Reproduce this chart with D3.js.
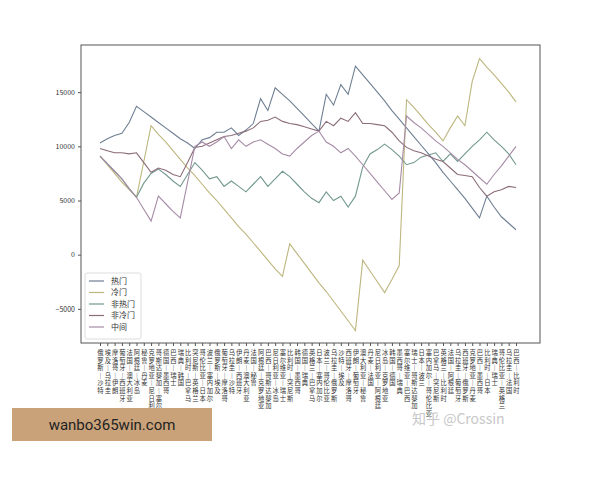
<!DOCTYPE html>
<html>
<head>
<meta charset="utf-8">
<script src="https://cdn.jsdelivr.net/npm/d3@7"></script>
<style>
body { margin: 0; background: #fff; }
svg text { font-family: "Noto Sans CJK SC", "DejaVu Sans", sans-serif; }
</style>
</head>
<body>
<svg id="chart" width="600" height="480"></svg>
<script>
// match labels (x axis)
var matches = ["俄罗斯—沙特","埃及—乌拉圭","摩洛哥—伊朗","葡萄牙—西班牙","法国—澳大利亚","阿根廷—冰岛","秘鲁—丹麦",
  "克罗地亚—尼日利亚","哥斯达黎加—塞尔维亚","德国—墨西哥","巴西—瑞士","瑞典—韩国","比利时—巴拿马","突尼斯—英格兰",
  "哥伦比亚—日本","波兰—塞内加尔","俄罗斯—埃及","葡萄牙—摩洛哥","乌拉圭—沙特","伊朗—西班牙","丹麦—澳大利亚",
  "法国—秘鲁","阿根廷—克罗地亚","巴西—哥斯达黎加","尼日利亚—冰岛","塞尔维亚—瑞士","比利时—突尼斯","韩国—墨西哥",
  "德国—瑞典","英格兰—巴拿马","日本—塞内加尔","波兰—哥伦比亚","乌拉圭—俄罗斯","沙特—埃及","西班牙—摩洛哥",
  "伊朗—葡萄牙","澳大利亚—秘鲁","丹麦—法国","尼日利亚—阿根廷","冰岛—克罗地亚","韩国—德国","墨西哥—瑞典",
  "塞尔维亚—巴西","瑞士—哥斯达黎加","日本—波兰","塞内加尔—哥伦比亚","巴拿马—突尼斯","英格兰—比利时",
  "法国—阿根廷","乌拉圭—葡萄牙","西班牙—俄罗斯","克罗地亚—丹麦","巴西—墨西哥","比利时—日本","瑞典—瑞士",
  "哥伦比亚—英格兰","乌拉圭—法国","巴西—比利时"];

var seriesNames = ["热门", "冷门", "非热门", "非冷门", "中间"];
var colors = ["#6e7f93", "#bdb67e", "#72988f", "#8b6c79", "#a68ca6"];

var hot = [10300,10700,11000,11200,12200,13700,13200,12700,12200,11700,11200,10700,10300,9800,10600,10800,11300,11300,11700,11000,
  11500,12100,14400,13300,15400,14800,14200,13500,12800,12100,11400,14800,13800,15700,14800,17400,16600,15800,15000,14200,
  13300,12500,11700,10900,10100,9300,8500,7600,6800,6000,5200,4300,3400,5400,4400,3500,2900,2300];
var cold = [9100,8300,7500,6700,6000,5300,8600,11900,11100,10400,9600,8800,8000,7300,6500,5700,5000,4200,3400,2600,
  1900,1100,300,-500,-1300,-2000,1000,100,-800,-1700,-2600,-3400,-4300,-5200,-6100,-7000,-500,-1500,-2500,-3500,
  -2300,-1000,14300,13600,12800,12000,11300,10500,11700,12800,11900,16000,18100,17300,16600,15800,15000,14100];
var nonHot = [9100,8400,7700,7000,6100,5300,6600,7500,7900,7400,6800,6300,7400,8500,7800,7000,7200,6300,6800,6300,
  5800,6500,7200,6300,7000,7700,7200,6500,5800,5200,4800,5800,5000,5400,4400,5400,8100,9300,9700,10200,
  9700,9100,8300,8500,9000,9200,9400,8600,9300,8600,9300,10000,10600,11300,10600,10000,9300,8300];
var nonCold = [9800,9600,9400,9400,9300,9400,8500,7600,8000,7800,7400,7200,8500,9900,10000,10300,10600,10900,11000,11200,
  11400,11700,12300,12400,12700,12300,12100,12000,11800,11600,11400,12300,11900,12600,12300,13100,12100,12100,12000,11900,
  11300,10500,9900,9600,9400,9100,8800,8600,8000,7400,7300,7200,6200,5400,5800,6000,6300,6200];
var middle = [9100,8400,7700,7000,6100,5300,4200,3100,5400,4700,4000,3400,6700,10000,10400,10000,10400,10900,9800,10600,
  10000,10400,10600,10200,9800,9300,9100,9800,10400,11000,11400,10400,10000,9400,9800,9100,8300,7500,6700,5900,
  5100,5700,12800,12200,11700,11100,10500,10000,9400,8800,8300,7700,7100,6500,7400,8200,9100,10000];
var yTicks = [-5000, 0, 5000, 10000, 15000];

var allSeries = [hot, cold, nonHot, nonCold, middle];

var margin = {top: 45, right: 60, bottom: 137, left: 81},
    width = 600 - margin.left - margin.right,
    height = 480 - margin.top - margin.bottom;

var svg = d3.select("#chart").append("g")
  .attr("transform", `translate(${margin.left},${margin.top})`);

var x = d3.scalePoint().domain(matches).range([19, width - 24]);
var y = d3.scaleLinear().domain([-8150, 19350]).range([height, 0]);

svg.append("rect").attr("width", width).attr("height", height)
  .attr("fill", "none").attr("stroke", "#555").attr("stroke-width", 1);

var ya = svg.append("g").call(d3.axisLeft(y).tickValues(yTicks).tickFormat(d3.format("d")).tickSize(3).tickSizeOuter(0));
ya.select(".domain").remove();
ya.selectAll("text").attr("font-size", 7).attr("fill", "#333");
ya.selectAll("line").attr("stroke", "#555");

var xa = svg.append("g").attr("transform", `translate(0,${height})`)
  .call(d3.axisBottom(x).tickSize(3).tickSizeOuter(0).tickFormat(""));
xa.select(".domain").remove();
xa.selectAll("line").attr("stroke", "#555");
// vertical stacked labels, one character per row
xa.selectAll(".tick").each(function(d) {
  var t = d3.select(this).append("text").attr("fill", "#333").attr("font-size", 6.3)
    .attr("text-anchor", "middle");
  Array.from(d.replace("—", "｜")).forEach(function(c, j) {
    t.append("tspan").attr("x", 0).attr("y", 12 + j * 7.6).text(c);
  });
});

var line = d3.line().x((d, i) => x(matches[i])).y(d => y(d));
allSeries.forEach(function(s, k) {
  svg.append("path").datum(s).attr("d", line)
    .attr("fill", "none").attr("stroke", colors[k]).attr("stroke-width", 1.1);
});

// legend
var lg = svg.append("g").attr("transform", `translate(4,${height - 70})`);
lg.append("rect").attr("width", 56).attr("height", 66).attr("rx", 2)
  .attr("fill", "#fff").attr("stroke", "#ddd");
seriesNames.forEach(function(n, k) {
  var g = lg.append("g").attr("transform", `translate(4,${8 + k * 11.5})`);
  g.append("line").attr("x1", 0).attr("x2", 15).attr("stroke", colors[k]).attr("stroke-width", 1.2);
  g.append("text").attr("x", 22).attr("dy", "0.35em").attr("font-size", 8).attr("fill", "#333").text(n);
});

// watermark and banner
d3.select("#chart").append("text").attr("x", 412).attr("y", 424)
  .attr("font-size", 14).attr("fill", "#c8c8c8").text("知乎 @Crossin");
d3.select("#chart").append("rect").attr("x", 12).attr("y", 408).attr("width", 200).attr("height", 33)
  .attr("fill", "#c9a27a");
d3.select("#chart").append("text").attr("x", 112).attr("y", 430).attr("text-anchor", "middle")
  .attr("font-size", 15).attr("fill", "#222").style("font-family", "Roboto, sans-serif").text("wanbo365win.com");
</script>
</body>
</html>
